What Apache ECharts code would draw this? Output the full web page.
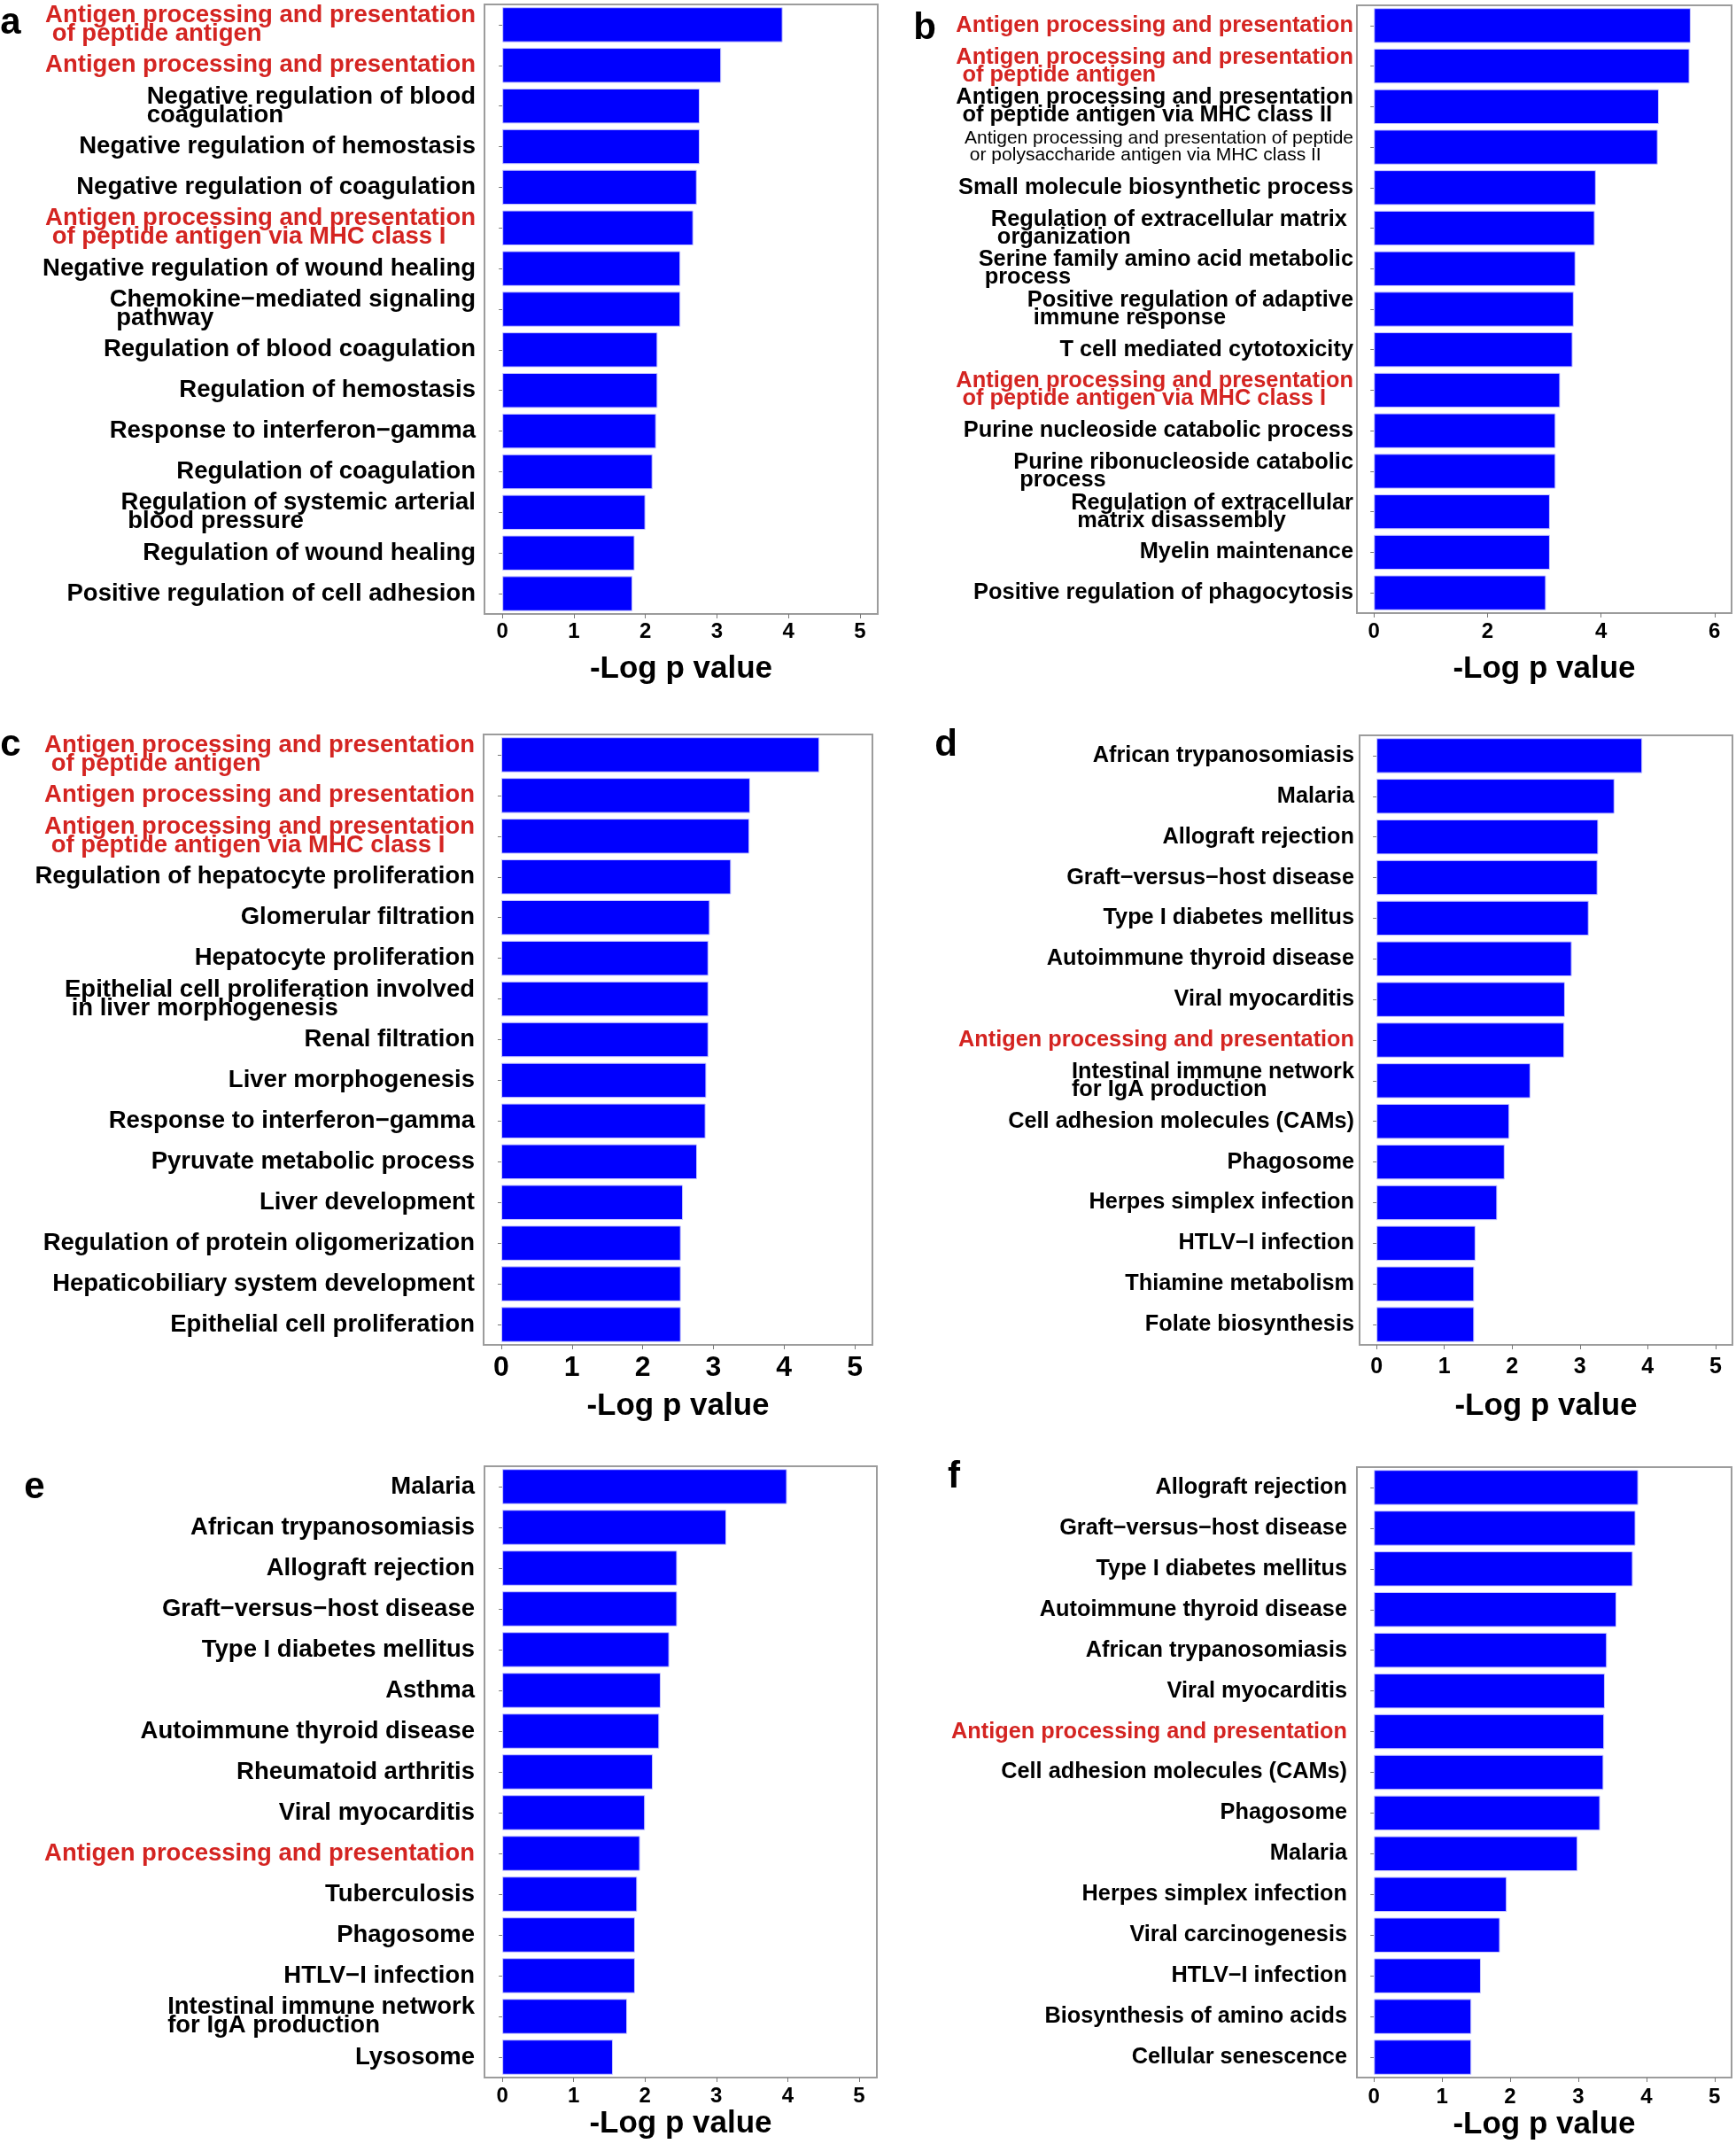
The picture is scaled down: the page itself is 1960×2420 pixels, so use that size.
<!DOCTYPE html>
<html>
<head>
<meta charset="utf-8">
<script src="https://cdn.jsdelivr.net/npm/echarts@6/dist/echarts.min.js"></script>
<style>
  html, body { margin: 0; padding: 0; background: #fff; }
  #chart { width: 1960px; height: 2420px; }
</style>
</head>
<body>
<div id="chart"></div>
<script>
// ---------------- DATA ----------------
const catsA = [
  "Antigen processing and presentation\n of peptide antigen",
  "Antigen processing and presentation",
  "Negative regulation of blood\ncoagulation",
  "Negative regulation of hemostasis",
  "Negative regulation of coagulation",
  "Antigen processing and presentation\n of peptide antigen via MHC class I",
  "Negative regulation of wound healing",
  "Chemokine\u2212mediated signaling\n pathway",
  "Regulation of blood coagulation",
  "Regulation of hemostasis",
  "Response to interferon\u2212gamma",
  "Regulation of coagulation",
  "Regulation of systemic arterial\n blood pressure",
  "Regulation of wound healing",
  "Positive regulation of cell adhesion"
];
const valsA = [3.92, 3.06, 2.76, 2.76, 2.72, 2.67, 2.49, 2.49, 2.17, 2.17, 2.15, 2.10, 2.00, 1.85, 1.82];
const redA = [0, 1, 5];

const catsB = [
  "Antigen processing and presentation",
  "Antigen processing and presentation\n of peptide antigen",
  "Antigen processing and presentation\n of peptide antigen via MHC class II",
  "Antigen processing and presentation of peptide\n or polysaccharide antigen via MHC class II",
  "Small molecule biosynthetic process",
  "Regulation of extracellular matrix \n organization",
  "Serine family amino acid metabolic\n process",
  "Positive regulation of adaptive\n immune response",
  "T cell mediated cytotoxicity",
  "Antigen processing and presentation\n of peptide antigen via MHC class I",
  "Purine nucleoside catabolic process",
  "Purine ribonucleoside catabolic\n process",
  "Regulation of extracellular\n matrix disassembly",
  "Myelin maintenance",
  "Positive regulation of phagocytosis"
];
const valsB = [5.58, 5.56, 5.02, 5.00, 3.91, 3.89, 3.55, 3.52, 3.50, 3.28, 3.20, 3.20, 3.10, 3.10, 3.03];
const redB = [0, 1, 9];
const smallB = [3];

const catsC = [
  "Antigen processing and presentation\n of peptide antigen",
  "Antigen processing and presentation",
  "Antigen processing and presentation\n of peptide antigen via MHC class I",
  "Regulation of hepatocyte proliferation",
  "Glomerular filtration",
  "Hepatocyte proliferation",
  "Epithelial cell proliferation involved\n in liver morphogenesis",
  "Renal filtration",
  "Liver morphogenesis",
  "Response to interferon\u2212gamma",
  "Pyruvate metabolic process",
  "Liver development",
  "Regulation of protein oligomerization",
  "Hepaticobiliary system development",
  "Epithelial cell proliferation"
];
const valsC = [4.50, 3.52, 3.51, 3.25, 2.95, 2.93, 2.93, 2.93, 2.90, 2.89, 2.77, 2.57, 2.54, 2.54, 2.54];
const redC = [0, 1, 2];

const catsD = [
  "African trypanosomiasis",
  "Malaria",
  "Allograft rejection",
  "Graft\u2212versus\u2212host disease",
  "Type I diabetes mellitus",
  "Autoimmune thyroid disease",
  "Viral myocarditis",
  "Antigen processing and presentation",
  "Intestinal immune network\nfor IgA production",
  "Cell adhesion molecules (CAMs)",
  "Phagosome",
  "Herpes simplex infection",
  "HTLV\u2212I infection",
  "Thiamine metabolism",
  "Folate biosynthesis"
];
const valsD = [3.92, 3.51, 3.27, 3.26, 3.13, 2.88, 2.78, 2.77, 2.27, 1.96, 1.89, 1.78, 1.46, 1.44, 1.44];
const redD = [7];

const catsE = [
  "Malaria",
  "African trypanosomiasis",
  "Allograft rejection",
  "Graft\u2212versus\u2212host disease",
  "Type I diabetes mellitus",
  "Asthma",
  "Autoimmune thyroid disease",
  "Rheumatoid arthritis",
  "Viral myocarditis",
  "Antigen processing and presentation",
  "Tuberculosis",
  "Phagosome",
  "HTLV\u2212I infection",
  "Intestinal immune network\nfor IgA production",
  "Lysosome"
];
const valsE = [3.99, 3.14, 2.45, 2.45, 2.34, 2.22, 2.20, 2.11, 2.00, 1.93, 1.89, 1.86, 1.86, 1.75, 1.55];
const redE = [9];

const catsF = [
  "Allograft rejection",
  "Graft\u2212versus\u2212host disease",
  "Type I diabetes mellitus",
  "Autoimmune thyroid disease",
  "African trypanosomiasis",
  "Viral myocarditis",
  "Antigen processing and presentation",
  "Cell adhesion molecules (CAMs)",
  "Phagosome",
  "Malaria",
  "Herpes simplex infection",
  "Viral carcinogenesis",
  "HTLV\u2212I infection",
  "Biosynthesis of amino acids",
  "Cellular senescence"
];
const valsF = [3.88, 3.84, 3.80, 3.56, 3.42, 3.39, 3.38, 3.37, 3.32, 2.99, 1.95, 1.85, 1.57, 1.43, 1.43];
const redF = [6];

const ticks5 = [0, 1, 2, 3, 4, 5];
const ticks6 = [0, 2, 4, 6];
const panelLetters = ["a", "b", "c", "d", "e", "f"];
const axisTitle = "-Log p value";

// ---------------- LAYOUT / STYLE ----------------
const FONT = "'Liberation Sans', Arial, Helvetica, sans-serif";
const RED = "#d42421";

const panels = [
  { cats: catsA, vals: valsA, reds: redA, smalls: [], ticks: ticks5, min: -0.25, max: 5.25,
    grid: { left: 547, top: 5, width: 444, height: 688 }, fs: 27.5, lh: 21, lblMargin: 10,
    tickFs: 24, tickMargin: 8, nameGap: 45, letter: [12, 26] },
  { cats: catsB, vals: valsB, reds: redB, smalls: smallB, ticks: ticks6, min: -0.3, max: 6.3,
    grid: { left: 1532, top: 6, width: 423, height: 686 }, fs: 25.4, lh: 20, lblMargin: 4,
    tickFs: 24, tickMargin: 9, nameGap: 46, letter: [1044, 32] },
  { cats: catsC, vals: valsC, reds: redC, smalls: [], ticks: ticks5, min: -0.25, max: 5.25,
    grid: { left: 546, top: 829, width: 439, height: 689 }, fs: 27.5, lh: 21, lblMargin: 10,
    tickFs: 32, tickMargin: 10, nameGap: 52, letter: [12, 841] },
  { cats: catsD, vals: valsD, reds: redD, smalls: [], ticks: ticks5, min: -0.25, max: 5.25,
    grid: { left: 1535, top: 830, width: 421, height: 688 }, fs: 25.3, lh: 20, lblMargin: 6,
    tickFs: 25, tickMargin: 13, nameGap: 52, letter: [1068, 841] },
  { cats: catsE, vals: valsE, reds: redE, smalls: [], ticks: ticks5, min: -0.25, max: 5.25,
    grid: { left: 547, top: 1655, width: 443, height: 690 }, fs: 27.5, lh: 21, lblMargin: 11,
    tickFs: 24, tickMargin: 9, nameGap: 35, letter: [39, 1679] },
  { cats: catsF, vals: valsF, reds: redF, smalls: [], ticks: ticks5, min: -0.25, max: 5.25,
    grid: { left: 1532, top: 1656, width: 423, height: 689 }, fs: 25.3, lh: 20, lblMargin: 11,
    tickFs: 24, tickMargin: 10, nameGap: 36, letter: [1077, 1667] }
];

const grids = [], xAxes = [], yAxes = [], series = [], graphics = [];

panels.forEach((p, i) => {
  grids.push(Object.assign({
    show: true, borderColor: '#9c9c9c', borderWidth: 2, backgroundColor: '#fff',
    containLabel: false, outerBoundsMode: 'none'
  }, p.grid));

  xAxes.push({
    type: 'value', gridIndex: i, min: p.min, max: p.max,
    axisLine: { show: false },
    splitLine: { show: false },
    axisTick: { show: true, customValues: p.ticks, length: 5, lineStyle: { color: '#777', width: 1 } },
    axisLabel: {
      customValues: p.ticks, margin: p.tickMargin, color: '#000',
      fontSize: p.tickFs, fontWeight: 'bold', fontFamily: FONT
    },
    name: axisTitle, nameLocation: 'middle', nameGap: p.nameGap,
    nameTextStyle: { color: '#000', fontSize: 35, fontWeight: 'bold', fontFamily: FONT }
  });

  const base = { fontFamily: FONT, fontSize: p.fs, lineHeight: p.lh, fontWeight: 'bold', align: 'left' };
  yAxes.push({
    type: 'category', gridIndex: i, data: p.cats, inverse: true,
    axisLine: { show: false },
    axisTick: { show: true, alignWithLabel: true, length: 4, lineStyle: { color: '#777' } },
    splitLine: { show: false },
    axisLabel: {
      interval: 0, margin: p.lblMargin,
      formatter: (value, idx) => {
        const st = p.reds.includes(idx) ? 'r' : (p.smalls.includes(idx) ? 's' : 'k');
        return value.split('\n').map(l => '{' + st + '|' + l + '}').join('\n');
      },
      rich: {
        k: Object.assign({}, base, { color: '#000' }),
        r: Object.assign({}, base, { color: RED }),
        s: Object.assign({}, base, { color: '#000', fontWeight: 'normal', fontSize: 21, lineHeight: 19 })
      }
    }
  });

  series.push({
    type: 'bar', xAxisIndex: i, yAxisIndex: i, data: p.vals,
    barWidth: '86%',
    itemStyle: { color: '#0000ff', borderColor: '#c9c9ff', borderWidth: 1 },
    silent: true, animation: false
  });

  graphics.push({
    type: 'text', x: p.letter[0], y: p.letter[1],
    style: {
      text: panelLetters[i], fill: '#000', font: 'bold 42px ' + FONT,
      textAlign: 'center', textVerticalAlign: 'middle'
    }
  });
});

const chart = echarts.init(document.getElementById('chart'), null, { renderer: 'canvas' });
chart.setOption({
  backgroundColor: '#fff',
  animation: false,
  grid: grids,
  xAxis: xAxes,
  yAxis: yAxes,
  series: series,
  graphic: graphics
});
</script>
</body>
</html>
